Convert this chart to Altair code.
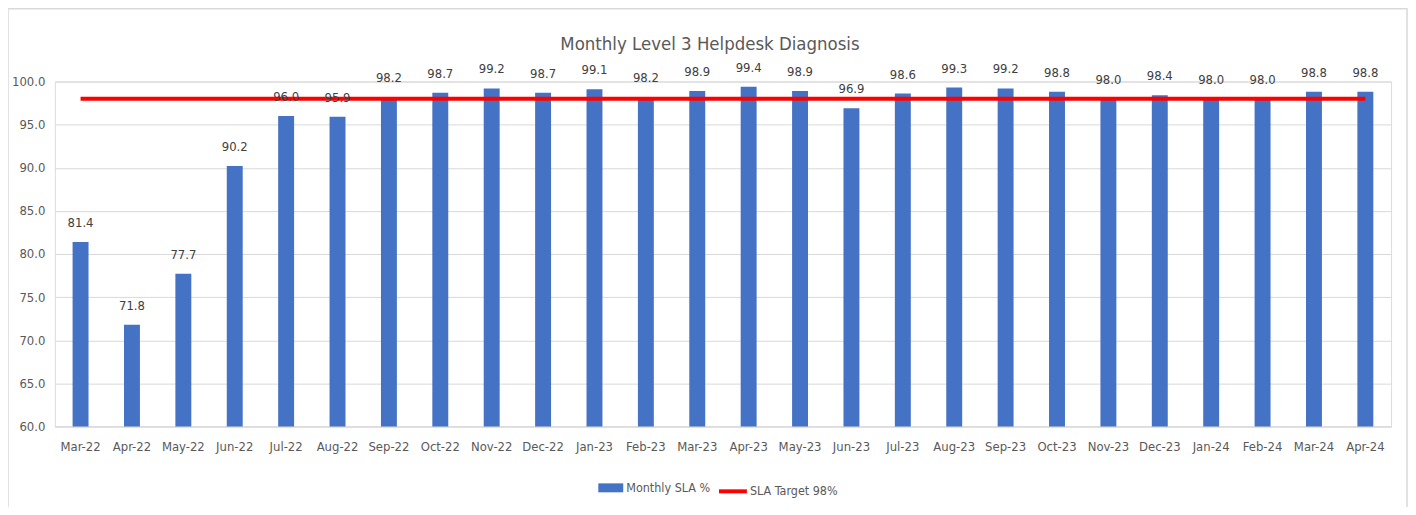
import altair as alt
import pandas as pd

months = ["Mar-22", "Apr-22", "May-22", "Jun-22", "Jul-22", "Aug-22", "Sep-22", "Oct-22",
          "Nov-22", "Dec-22", "Jan-23", "Feb-23", "Mar-23", "Apr-23", "May-23", "Jun-23",
          "Jul-23", "Aug-23", "Sep-23", "Oct-23", "Nov-23", "Dec-23", "Jan-24", "Feb-24",
          "Mar-24", "Apr-24"]
sla_values = [81.4, 71.8, 77.7, 90.2, 96.0, 95.9, 98.2, 98.7, 99.2, 98.7, 99.1, 98.2, 98.9,
              99.4, 98.9, 96.9, 98.6, 99.3, 99.2, 98.8, 98.0, 98.4, 98.0, 98.0, 98.8, 98.8]
target_values = [98.0] * len(months)
y_ticks = [60, 65, 70, 75, 80, 85, 90, 95, 100]

bar_name = "Monthly SLA %"
line_name = "SLA Target 98%"

df = pd.DataFrame({
    "month": months,
    "value": sla_values,
    "target": target_values,
    "bar_series": [bar_name] * len(months),
    "line_series": [line_name] * len(months),
})

FONT = "Liberation Sans Narrow, DejaVu Sans Condensed, Liberation Sans, sans-serif"
GRAY = "#595959"
W, H = 1340, 346
PAD_L, PAD_T, PAD_R, PAD_B = 47, 73, 17, 80

x_enc = alt.X("month:N", sort=months, title=None,
              scale=alt.Scale(paddingInner=0.69, paddingOuter=0.345),
              axis=alt.Axis(labelAngle=0, ticks=False, domain=True, domainColor="#d9d9d9",
                            labelPadding=14, labelFontSize=13, labelColor=GRAY, labelFont=FONT,
                            grid=False))
y_scale = alt.Scale(domain=[60, 100], nice=False, zero=False)

base = alt.Chart(df)

frame = alt.Chart(pd.DataFrame({"k": [0]})).mark_rect(
    fill="transparent", stroke="#d9d9d9", strokeWidth=1.5
).encode(
    x=alt.value(-PAD_L), x2=alt.value(W + 16),
    y=alt.value(-PAD_T), y2=alt.value(H + 200)
)

bars = base.mark_bar(clip=True, color="#4472C4").encode(
    x=x_enc,
    y=alt.Y("value:Q", scale=y_scale, title=None,
            axis=alt.Axis(values=y_ticks, format=".1f", ticks=False, domain=False,
                          labelPadding=10, gridColor="#d9d9d9", labelFontSize=13,
                          labelColor=GRAY, labelFont=FONT)),
    color=alt.Color("bar_series:N",
                    scale=alt.Scale(domain=[bar_name], range=["#4472C4"]),
                    legend=alt.Legend(orient="none", legendX=545, legendY=395, title=None,
                                      symbolType="M-1,-0.36L1,-0.36L1,0.36L-1,0.36Z",
                                      symbolSize=625, symbolStrokeWidth=0,
                                      labelFontSize=12.5, labelColor=GRAY, labelFont=FONT,
                                      labelOffset=3, padding=0)),
)

line = base.mark_line(strokeWidth=4, strokeCap="butt").encode(
    x=alt.X("month:N", sort=months),
    y=alt.Y("target:Q", scale=y_scale),
    stroke=alt.Stroke("line_series:N",
                      scale=alt.Scale(domain=[line_name], range=["#FF0000"]),
                      legend=alt.Legend(orient="none", legendX=664, legendY=395, title=None,
                                        symbolType="stroke", symbolStrokeWidth=4,
                                        symbolSize=784,
                                        labelFontSize=12.5, labelColor=GRAY, labelFont=FONT,
                                        labelOffset=1, padding=0)),
)

labels = base.mark_text(dy=-19, color="#404040", fontSize=13, font=FONT, baseline="middle").encode(
    x=alt.X("month:N", sort=months),
    y=alt.Y("value:Q", scale=y_scale),
    text=alt.Text("value:Q", format=".1f"),
)

chart = alt.layer(frame, bars, line, labels).properties(
    width=W, height=H,
    title=alt.TitleParams("Monthly Level 3 Helpdesk Diagnosis", fontSize=18.5, color=GRAY,
                          font=FONT, fontWeight="normal", frame="group", anchor="middle",
                          baseline="alphabetic", offset=-61, dx=-13),
    autosize=alt.AutoSizeParams(type="none"),
    padding={"left": PAD_L, "top": PAD_T, "right": PAD_R, "bottom": PAD_B},
).resolve_scale(
    color="independent"
).configure_view(stroke=None).configure(background="white")

chart.save("out.html", embed_options={"renderer": "svg", "actions": False})
